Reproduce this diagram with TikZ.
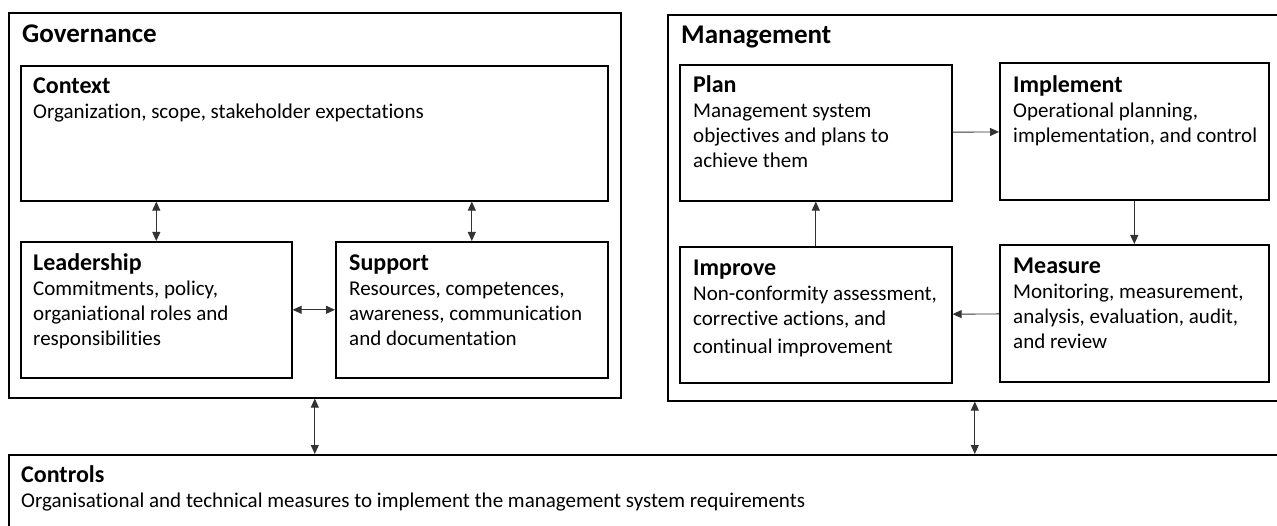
\documentclass[tikz,border=0pt]{standalone}
\usepackage{fontspec}
\setmainfont{Carlito}[Ligatures=NoCommon]
\usetikzlibrary{arrows.meta}

\newcommand{\boxhead}[1]{{\bfseries\fontsize{24}{25}\selectfont #1}}

\begin{document}
\begin{tikzpicture}[x=1pt,y=-1pt,
	box/.style={draw, line width=1.6pt, anchor=north west, inner sep=0pt},
	txt/.style={anchor=north west, inner sep=0pt, align=left,
		font=\fontsize{21}{25}\selectfont},
	grptitle/.style={anchor=base west, inner sep=0pt,
		font=\bfseries\fontsize{27}{30}\selectfont},
	link/.style={draw=black!80, line width=0.9pt, -{Triangle[length=9pt,width=8pt]}},
	dlink/.style={link, {Triangle[length=9pt,width=8pt]}-{Triangle[length=9pt,width=8pt]}}]
	% Frame
	\useasboundingbox (0,0) rectangle (1277,526);
	\clip (0,0) rectangle (1277,526);
	
	% Governance
	\node[box, minimum width=612pt, minimum height=385pt] (gov) at (8,12) {};
	\node[grptitle] (gov-t) at ([shift={(14pt,-31pt)}]gov.north west) {Governance};
	\node[box, minimum width=587pt, minimum height=135pt] (ctx) at (20,65) {};
	\node[box, minimum width=271pt, minimum height=136pt] (lead) at (20,241) {};
	\node[box, minimum width=272pt, minimum height=136pt] (supp) at (335,241) {};
	\node[txt] (ctx-t) at ([shift={(13pt,-8pt)}]ctx.north west)
		{\rule{0pt}{20pt}\boxhead{Context}\\ Organization, scope, stakeholder expectations};
	\node[txt] (lead-t) at ([shift={(13pt,-9pt)}]lead.north west)
		{\rule{0pt}{20pt}\boxhead{Leadership}\\ Commitments, policy,\\ organiational roles and\\ responsibilities};
	\node[txt] (supp-t) at ([shift={(14pt,-9pt)}]supp.north west)
		{\rule{0pt}{20pt}\boxhead{Support}\\ Resources, competences,\\ awareness, communication\\ and documentation};
	
	% Management
	\node[box, minimum width=614pt, minimum height=386pt] (mgmt) at (667,14) {};
	\node[grptitle] (mgmt-t) at ([shift={(14pt,-30pt)}]mgmt.north west) {Management};
	\node[box, minimum width=272pt, minimum height=136pt] (plan) at (679,64) {};
	\node[box, minimum width=269pt, minimum height=137pt] (impl) at (999,62) {};
	\node[box, minimum width=272pt, minimum height=136pt] (impr) at (679,246) {};
	\node[box, minimum width=269pt, minimum height=137pt] (meas) at (999,244) {};
	\node[txt] (plan-t) at ([shift={(14pt,-8pt)}]plan.north west)
		{\rule{0pt}{20pt}\boxhead{Plan}\\ Management system\\ objectives and plans to\\ achieve them};
	\node[txt] (impl-t) at ([shift={(14pt,-10pt)}]impl.north west)
		{\rule{0pt}{20pt}\boxhead{Implement}\\ Operational planning,\\ implementation, and control};
	\node[txt] (impr-t) at ([shift={(14pt,-9pt)}]impr.north west)
		{\rule{0pt}{20pt}\boxhead{Improve}\\ Non-conformity assessment,\\ corrective actions, and\\[3pt] continual improvement};
	\node[txt] (meas-t) at ([shift={(14pt,-9pt)}]meas.north west)
		{\rule{0pt}{20pt}\boxhead{Measure}\\ Monitoring, measurement,\\ analysis, evaluation, audit,\\ and review};
	
	% Controls
	\node[box, minimum width=1290pt, minimum height=100pt] (ctrl) at (8,454) {};
	\node[txt] (ctrl-t) at ([shift={(13pt,-8pt)}]ctrl.north west)
		{\rule{0pt}{20pt}\boxhead{Controls}\\ Organisational and technical measures to implement the management system requirements};
	
	% Links
	\draw[dlink] (lead.north) -- (lead.north |- ctx.south);
	\draw[dlink] (supp.north) -- (supp.north |- ctx.south);
	\draw[dlink] (lead) -- (supp);
	\draw[dlink] (gov.south) -- (gov.south |- ctrl.north);
	\draw[dlink] (mgmt.south) -- (mgmt.south |- ctrl.north);
	\draw[link] (plan) -- (impl);
	\draw[link] (impl) -- (meas);
	\draw[link] (meas) -- (impr);
	\draw[link] (impr) -- (plan);
\end{tikzpicture}
\end{document}
